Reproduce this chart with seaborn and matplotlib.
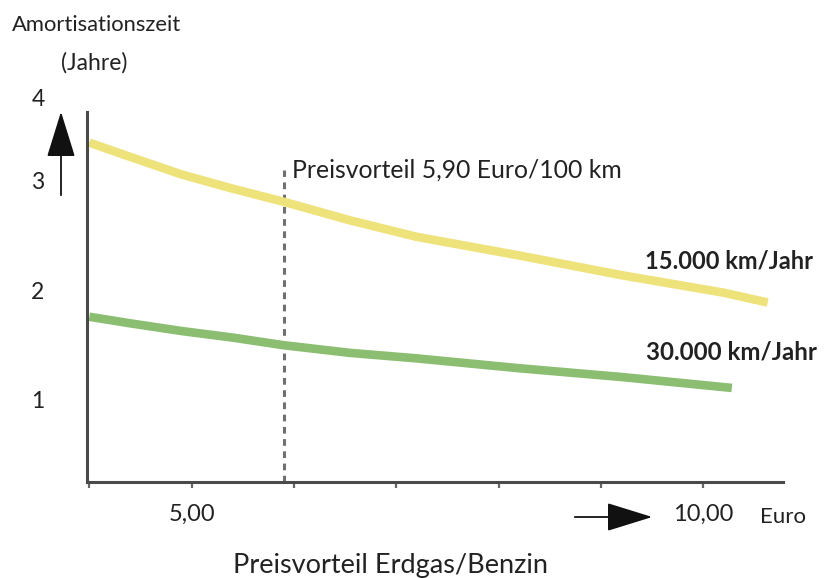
import matplotlib
matplotlib.use("Agg")
import matplotlib.pyplot as plt
import seaborn as sns
import pandas as pd

# ---- data ----
x_15k = [4.0, 4.4, 4.9, 5.4, 5.9, 6.55, 7.2, 8.2, 9.2, 10.2, 10.63]
y_15k = [3.35, 3.22, 3.06, 2.93, 2.81, 2.64, 2.49, 2.32, 2.14, 1.98, 1.89]
x_30k = [4.0, 4.4, 4.9, 5.4, 5.9, 6.55, 7.2, 8.2, 9.2, 10.28]
y_30k = [1.76, 1.70, 1.63, 1.57, 1.50, 1.43, 1.38, 1.29, 1.21, 1.11]
series_names = ["15.000 km/Jahr", "30.000 km/Jahr"]
x_ticks = [4, 5, 6, 7, 8, 9, 10]
x_tick_labels = ["", "5,00", "", "", "", "", "10,00"]
y_ticks = [1, 2, 3]
y_tick_labels = ["1", "2", "3"]
marker_x = 5.9
marker_label = "Preisvorteil 5,90 Euro/100 km"

df = pd.concat([
    pd.DataFrame({"x": x_15k, "y": y_15k, "s": series_names[0]}),
    pd.DataFrame({"x": x_30k, "y": y_30k, "s": series_names[1]}),
])

sns.set_theme(style="white")
plt.rcParams["font.family"] = ["Lato", "DejaVu Sans"]

W, H = 832, 578
fig = plt.figure(figsize=(W / 100, H / 100), dpi=100)

def fx(px):
    return px / W

def fy(py):
    return 1 - py / H

# axes box: left 87px, right 783px, bottom 482px, top 112px
ax = fig.add_axes([fx(87), fy(482), fx(783) - fx(87), fy(112) - fy(482)])
ax.set_xlim(3.977, 10.78)
ax.set_ylim(0.251, 3.63)

palette = {series_names[0]: "#EEE27A", series_names[1]: "#8CBE72"}
sns.lineplot(data=df, x="x", y="y", hue="s", palette=palette, linewidth=6.2,
             legend=False, ax=ax, sort=False)
for ln in ax.get_lines():
    ln.set_solid_capstyle("butt")
    ln.set_solid_joinstyle("round")

# dashed marker line
ax.plot([marker_x, marker_x], [0.251, 3.10], color="#707070", lw=2.2,
        dashes=(2.2, 1.8), zorder=1)
ax.text(marker_x + 0.08, 3.10, marker_label, fontsize=17.8, color="#222222",
        ha="left", va="center")

# spines
for s in ["top", "right"]:
    ax.spines[s].set_visible(False)
for s in ["left", "bottom"]:
    ax.spines[s].set_color("#4a4a4a")
    ax.spines[s].set_linewidth(2.2)

ax.set_xticks(x_ticks)
ax.set_xticklabels(x_tick_labels, fontsize=17, color="#222222")
ax.tick_params(axis="x", bottom=True, direction="out", length=4, width=1.6,
               color="#666666", pad=12)
ax.set_yticks(y_ticks)
ax.set_yticklabels(y_tick_labels, fontsize=16.5, color="#222222")
ax.tick_params(axis="y", left=False, length=0, pad=31)
ax.set_xlabel("")
ax.set_ylabel("")

# series labels
ax.text(10.25, 2.27, series_names[0], fontsize=17, fontweight="bold",
        color="#222222", ha="center", va="center")
ax.text(10.28, 1.44, series_names[1], fontsize=17.3, fontweight="bold",
        color="#222222", ha="center", va="center")

# axis titles and decorations (figure pixel coords)
fig.text(fx(12), fy(25), "Amortisationszeit", fontsize=15.8, color="#222222",
         ha="left", va="center")
fig.text(fx(61), fy(63), "(Jahre)", fontsize=16.5, color="#222222",
         ha="left", va="center")
fig.text(fx(38), fy(100), "4", fontsize=16.5, color="#222222",
         ha="center", va="center")
fig.text(fx(760), fy(517), "Euro", fontsize=16, color="#222222",
         ha="left", va="center")
fig.text(fx(233), fy(565), "Preisvorteil Erdgas/Benzin", fontsize=19.5,
         color="#222222", ha="left", va="center")

# arrows
fig.add_artist(matplotlib.patches.FancyArrowPatch(
    (fx(61), fy(198)), (fx(61), fy(109)), transform=fig.transFigure,
    arrowstyle="-|>,head_length=1.45,head_width=0.45", mutation_scale=20,
    color="#111111", lw=1.3))
fig.add_artist(matplotlib.patches.FancyArrowPatch(
    (fx(572), fy(517)), (fx(655), fy(517)), transform=fig.transFigure,
    arrowstyle="-|>,head_length=1.45,head_width=0.45", mutation_scale=20,
    color="#111111", lw=1.3))

fig.savefig("out.png", dpi=100, facecolor="white")
